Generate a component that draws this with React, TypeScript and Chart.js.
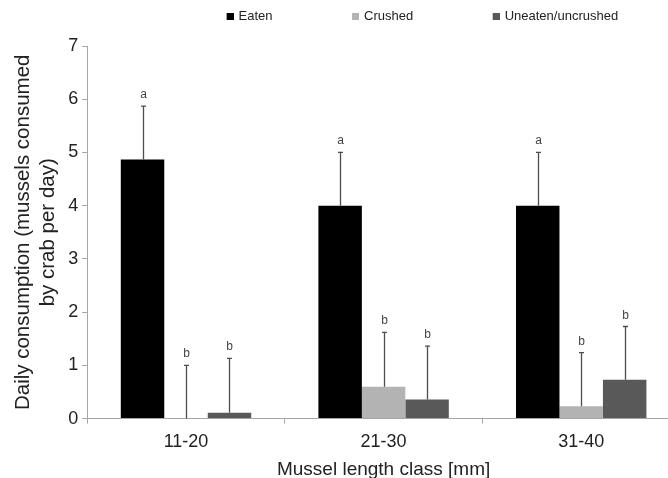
import React, { useEffect, useRef } from 'react';
import { Chart, registerables } from 'chart.js';

Chart.register(...registerables);

const categories = ['11-20', '21-30', '31-40'];
const seriesNames = ['Eaten', 'Crushed', 'Uneaten/uncrushed'];
const eaten = [4.87, 4.0, 4.0];
const crushed = [0, 0.6, 0.23];
const uneaten = [0.11, 0.36, 0.73];
const eatenErr = [1.0, 1.0, 1.0];
const crushedErr = [1.0, 1.02, 1.01];
const uneatenErr = [1.02, 1.0, 1.0];
const eatenSig = ['a', 'a', 'a'];
const crushedSig = ['b', 'b', 'b'];
const uneatenSig = ['b', 'b', 'b'];
const yMin = 0;
const yMax = 7;
const yStep = 1;
const xTitle = 'Mussel length class [mm]';
const yTitle = ['Daily consumption (mussels consumed', 'by crab per day)'];

const FAMILY = "'Liberation Sans', Arial, Helvetica, sans-serif";
const colors = ['#000000', '#b3b3b3', '#595959'];
const errors = [eatenErr, crushedErr, uneatenErr];
const sigs = [eatenSig, crushedSig, uneatenSig];
const BW = 75;

function makeSwatch(color: string) {
  const c = document.createElement('canvas');
  c.width = BW + 3;
  c.height = 7;
  const ctx = c.getContext('2d')!;
  ctx.fillStyle = color;
  ctx.fillRect(BW + 3 - 7, 0, 7, 7);
  return c;
}

const errorBarPlugin = {
  id: 'errorBars',
  afterDatasetsDraw(chart: any) {
    const ctx = chart.ctx;
    const yScale = chart.scales.y;
    ctx.save();
    chart.data.datasets.forEach((ds: any, d: number) => {
      const meta = chart.getDatasetMeta(d);
      meta.data.forEach((el: any, i: number) => {
        const v = ds.data[i];
        const top = yScale.getPixelForValue(v + errors[d][i]);
        const x = Math.round(el.x) + 0.5;
        ctx.strokeStyle = '#4d4d4d';
        ctx.lineWidth = 1.3;
        ctx.beginPath();
        ctx.moveTo(x, el.y);
        ctx.lineTo(x, top);
        ctx.moveTo(x - 2.5, top);
        ctx.lineTo(x + 2.5, top);
        ctx.stroke();
        ctx.fillStyle = '#444444';
        ctx.font = `12px ${FAMILY}`;
        ctx.textAlign = 'center';
        ctx.textBaseline = 'alphabetic';
        ctx.fillText(sigs[d][i], x, top - 8);
      });
    });
    ctx.restore();
  },
};

const legendShiftPlugin = {
  id: 'legendShift',
  afterLayout(chart: any) {
    const l = chart.legend;
    if (l) {
      l.left += 4;
      l.right += 4;
      l.top -= 13;
      l.bottom -= 13;
    }
  },
};

export default function App() {
  const ref = useRef<HTMLCanvasElement>(null);
  useEffect(() => {
    if (!ref.current) return;
    const chart = new Chart(ref.current, {
      type: 'bar',
      data: {
        labels: categories,
        datasets: [eaten, crushed, uneaten].map((arr, i) => ({
          label: seriesNames[i],
          data: arr,
          backgroundColor: colors[i],
          borderWidth: 0,
          categoryPercentage: 0.66,
          barPercentage: 1,
        })),
      },
      options: {
        animation: false,
        responsive: false,
        devicePixelRatio: 1,
        layout: { padding: { left: 7, right: 20, top: 13, bottom: -3 } },
        plugins: {
          legend: {
            position: 'top',
            fullSize: false,
            labels: {
              usePointStyle: true,
              pointStyleWidth: BW,
              padding: 10,
              color: '#222222',
              font: { size: 13, family: FAMILY },
              generateLabels: (ch: any) =>
                ch.data.datasets.map((ds: any, i: number) => ({
                  text: ds.label,
                  fillStyle: ds.backgroundColor,
                  strokeStyle: ds.backgroundColor,
                  lineWidth: 0,
                  hidden: false,
                  datasetIndex: i,
                  pointStyle: makeSwatch(ds.backgroundColor),
                  fontColor: '#222222',
                })),
            },
          },
          tooltip: { enabled: false },
        },
        scales: {
          x: {
            offset: true,
            grid: {
              offset: true,
              drawOnChartArea: false,
              drawTicks: true,
              tickLength: 5,
              color: '#a6a6a6',
            },
            border: { display: true, color: '#a6a6a6', width: 1 },
            ticks: { color: '#222222', font: { size: 18, family: FAMILY }, padding: 8 },
            title: {
              display: true,
              text: xTitle,
              color: '#222222',
              font: { size: 19, family: FAMILY },
              padding: { top: -3, bottom: 0 },
            },
          },
          y: {
            min: yMin,
            max: yMax,
            grid: {
              drawOnChartArea: false,
              drawTicks: true,
              tickLength: 5,
              color: '#a6a6a6',
            },
            border: { display: true, color: '#a6a6a6', width: 1 },
            ticks: { stepSize: yStep, color: '#222222', font: { size: 18, family: FAMILY }, padding: 4 },
            title: {
              display: true,
              text: yTitle,
              color: '#222222',
              font: { size: 20.5, family: FAMILY },
              padding: { top: 4, bottom: 4 },
            },
          },
        },
      },
      plugins: [errorBarPlugin, legendShiftPlugin],
    });
    return () => chart.destroy();
  }, []);
  return (
    <div style={{ position: 'fixed', left: 0, top: 0, width: 668, height: 478, overflow: 'hidden', background: '#ffffff' }}>
      <canvas ref={ref} width={700} height={478} style={{ display: 'block', width: 700, height: 478 }} />
    </div>
  );
}
